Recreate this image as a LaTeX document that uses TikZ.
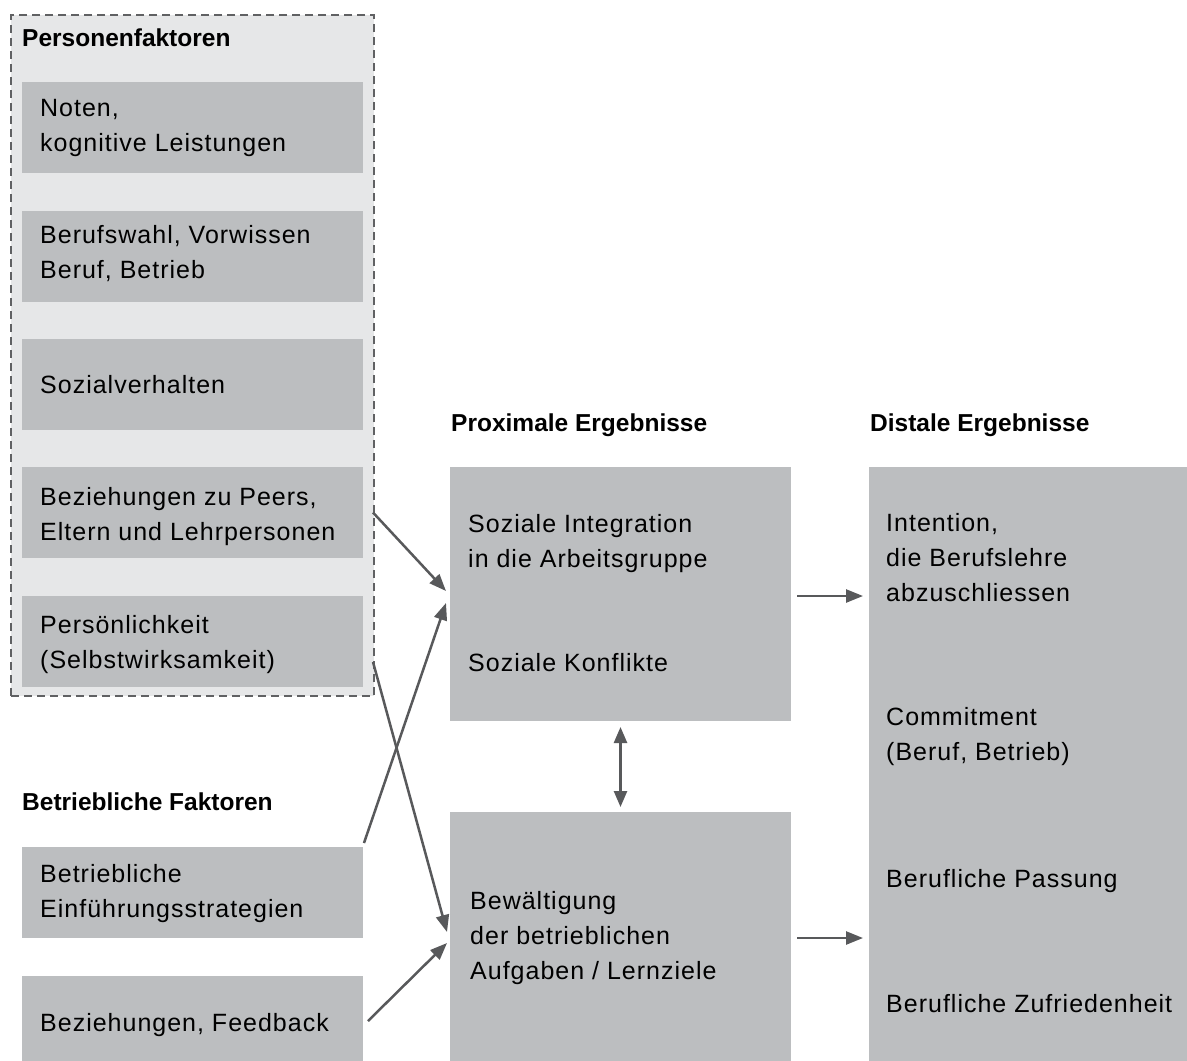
\documentclass[tikz,border=0pt]{standalone}
\usepackage{fontspec}
\setmainfont{Liberation Sans}
\newfontfamily\bodyfont[LetterSpace=4]{Liberation Sans}
\usetikzlibrary{arrows.meta,calc}
\definecolor{boxgray}{HTML}{BCBEC0}
\definecolor{panelgray}{HTML}{E6E7E8}
\definecolor{dashgray}{HTML}{606163}
\definecolor{arrowgray}{HTML}{58595B}
\begin{document}
\begin{tikzpicture}[x=1pt,y=-1pt,
  gbox/.style={fill=boxgray, draw=none, inner sep=0pt, outer sep=0pt, anchor=north west},
  lbox/.style={gbox, minimum width=341pt, minimum height=91pt},
  txt/.style={anchor=base west, align=left, inner sep=0pt, font=\bodyfont\fontsize{25}{35}\selectfont},
  ttl/.style={anchor=base west, inner sep=0pt, font=\bfseries\fontsize{24.5}{30}\selectfont},
  tip/.style={},
  arr/.style={draw=arrowgray, line width=2.5pt, -{Triangle[length=17pt,width=13pt]}},
  darr/.style={draw=arrowgray, line width=2.5pt, {Triangle[length=16pt,width=13pt]}-{Triangle[length=16pt,width=13pt]}},
]
\fill[white] (0,0) rectangle (1187,1061);
\useasboundingbox (0,0) rectangle (1187,1061);

% Personenfaktoren panel
\node[fill=panelgray, draw=dashgray, dash pattern=on 8pt off 5pt, line width=2.6pt,
      inner sep=0pt, outer sep=0pt, anchor=north west, minimum width=363pt, minimum height=681pt] (pf) at (11,15) {};
\node[ttl] (tpf) at (22,46) {Personenfaktoren};

% (base anchor of a multi-line text = baseline of its last line)
\node[lbox] (b1) at (22,82) {};
\node[txt] (t1) at (40,151) {Noten,\\kognitive Leistungen};
\node[lbox] (b2) at (22,211) {};
\node[txt] (t2) at (40,278) {Berufswahl, Vorwissen\\Beruf, Betrieb};
\node[lbox] (b3) at (22,339) {};
\node[txt] (t3) at (40,393) {Sozialverhalten};
\node[lbox] (b4) at (22,467) {};
\node[txt] (t4) at (40,540) {Beziehungen zu Peers,\\Eltern und Lehrpersonen};
\node[lbox] (b5) at (22,596) {};
\node[txt] (t5) at (40,668) {Persönlichkeit\\(Selbstwirksamkeit)};

% Betriebliche Faktoren
\node[ttl] (tbf) at (22,810) {Betriebliche Faktoren};
\node[lbox] (b6) at (22,847) {};
\node[txt] (t6) at (40,917) {Betriebliche\\Einführungsstrategien};
\node[gbox, minimum width=341pt, minimum height=85pt] (b7) at (22,976) {};
\node[txt] (t7) at (40,1031) {Beziehungen, Feedback};

% Proximale Ergebnisse
\node[ttl] (tpe) at (451,431) {Proximale Ergebnisse};
\node[gbox, minimum width=341pt, minimum height=254pt] (m1) at (450,467) {};
\node[txt] (tm1) at (468,567) {Soziale Integration\\in die Arbeitsgruppe};
\node[txt] (tm2) at (468,671) {Soziale Konflikte};
\node[gbox, minimum width=341pt, minimum height=249pt] (m2) at (450,812) {};
\node[txt] (tm3) at (470,979) {Bewältigung\\der betrieblichen\\Aufgaben / Lernziele};

% Distale Ergebnisse
\node[ttl] (tde) at (870,431) {Distale Ergebnisse};
\node[gbox, minimum width=318pt, minimum height=594pt] (d) at (869,467) {};
\node[txt] (td1) at (886,601) {Intention,\\die Berufslehre\\abzuschliessen};
\node[txt] (td2) at (886,760) {Commitment\\(Beruf, Betrieb)};
\node[txt] (td3) at (886,887) {Berufliche Passung};
\node[txt] (td4) at (886,1012) {Berufliche Zufriedenheit};

% connectors
\draw[arr] ([xshift=10pt]b4.east) -- ([xshift=-4pt,yshift=3pt]m1.west);
\draw[arr] ([xshift=1pt,yshift=4pt]b6.north east) -- ([xshift=-4pt,yshift=-9pt]m1.west);
\draw[arr] ([xshift=10pt,yshift=-20.5pt]b5.east) -- ([xshift=-3pt,yshift=4.5pt]m2.west);
\draw[arr] ([xshift=5pt,yshift=-2.5pt]b7.east) -- ([xshift=-3pt,yshift=-6.5pt]m2.west);
\draw[arr] ($(m1.east)+(6,2)$) -- ($(m1.east -| d.west)+(-6,2)$);
\draw[arr] ($(m2.east)+(6,1.5)$) -- ($(m2.east -| d.west)+(-6,1.5)$);
\draw[darr] ([yshift=-6pt]m1.south) -- ([yshift=5pt]m2.north);
\end{tikzpicture}
\end{document}
